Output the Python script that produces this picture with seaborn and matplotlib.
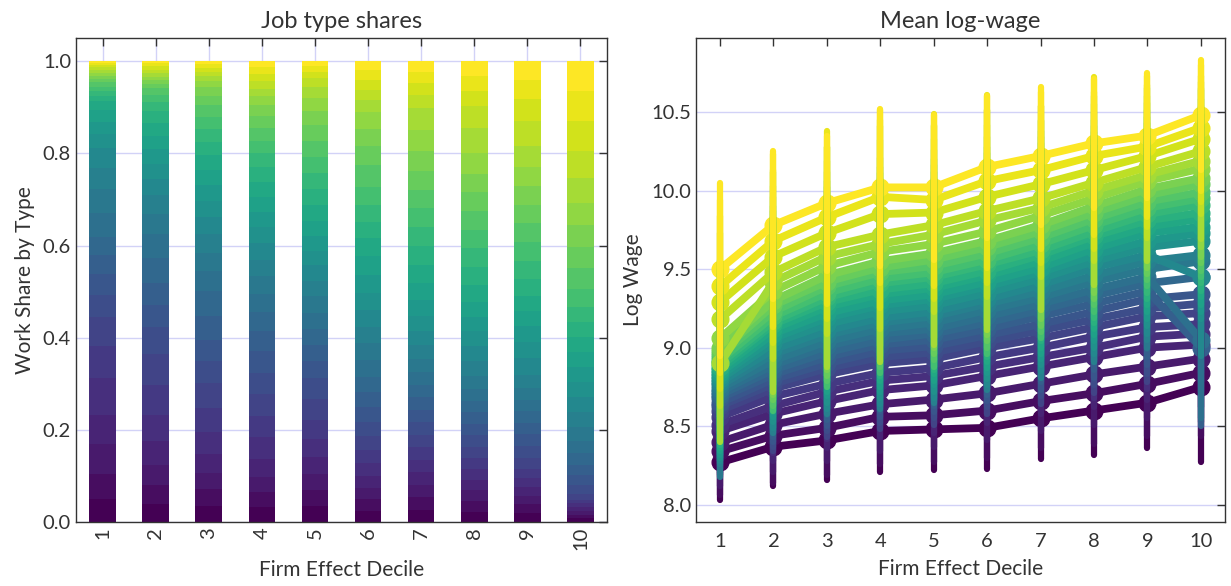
import numpy as np
import pandas as pd
import seaborn as sns
import matplotlib.pyplot as plt

# firm effect deciles (x axis of both panels)
deciles = [1, 2, 3, 4, 5, 6, 7, 8, 9, 10]
type_ids = list(range(31))

# relative weight of each job type (31 values, low -> high type) in each decile
type_weight_by_decile = [
    [1.6, 1.7, 2.0, 2.0, 2.5, 2.2, 2.0, 1.5, 1.4, 1.3, 1.25, 1.6, 1.65, 1.45, 1.4, 0.9,
     0.85, 0.8, 0.6, 0.35, 0.33, 0.33, 0.3, 0.2, 0.2, 0.2, 0.2, 0.2, 0.18, 0.15, 0.1],
    [1.2, 1.25, 1.3, 1.6, 1.7, 2.0, 2.0, 1.8, 1.45, 1.45, 1.65, 1.6, 1.3, 1.25, 1.05, 1.0,
     1.0, 0.85, 0.83, 0.8, 0.6, 0.45, 0.45, 0.3, 0.23, 0.23, 0.23, 0.23, 0.22, 0.2, 0.15],
    [1.1, 1.1, 1.1, 1.3, 1.45, 1.6, 1.67, 1.5, 1.43, 1.6, 1.67, 1.3, 1.25, 1.25, 1.15, 1.1,
     1.05, 1.0, 1.0, 0.9, 0.83, 0.83, 0.83, 0.6, 0.56, 0.45, 0.29, 0.29, 0.28, 0.25, 0.2],
    [1.0, 1.0, 1.0, 1.2, 1.43, 1.43, 1.43, 1.43, 1.43, 1.35, 1.25, 1.25, 1.15, 1.11, 1.11, 1.05,
     1.0, 1.0, 1.0, 1.0, 0.9, 0.83, 0.83, 0.83, 0.7, 0.6, 0.5, 0.5, 0.5, 0.45, 0.4],
    [1.1, 1.1, 1.1, 1.2, 1.25, 1.3, 1.43, 1.43, 1.2, 1.11, 1.11, 1.11, 1.11, 1.1, 1.05, 1.0,
     1.0, 1.05, 1.11, 1.11, 1.11, 1.11, 1.1, 1.05, 1.0, 0.9, 0.75, 0.6, 0.45, 0.38, 0.35],
    [0.75, 0.77, 0.77, 0.77, 0.85, 0.91, 0.91, 0.95, 1.0, 1.0, 1.0, 1.1, 1.11, 1.11, 1.11, 1.11,
     1.2, 1.25, 1.2, 1.11, 1.11, 1.2, 1.43, 1.3, 1.11, 1.11, 0.8, 0.67, 0.67, 0.67, 0.6],
    [0.83, 0.83, 0.83, 0.83, 0.83, 0.83, 0.83, 0.83, 0.83, 0.83, 0.83, 0.85, 0.9, 0.91, 0.91, 1.0,
     1.11, 1.11, 1.2, 1.25, 1.25, 1.25, 1.25, 1.25, 1.3, 1.43, 1.43, 0.9, 0.77, 0.77, 0.7],
    [0.71, 0.71, 0.71, 0.71, 0.71, 0.75, 0.77, 0.77, 0.77, 0.77, 0.77, 0.77, 0.9, 1.0, 1.0, 1.0,
     1.0, 1.0, 1.1, 1.25, 1.25, 1.25, 1.25, 1.25, 1.25, 1.4, 1.67, 1.5, 1.0, 1.0, 1.0],
    [0.59, 0.59, 0.59, 0.59, 0.59, 0.59, 0.77, 0.77, 0.77, 0.77, 0.77, 0.77, 0.77, 0.9, 1.11, 1.11,
     1.05, 1.0, 1.0, 1.1, 1.25, 1.25, 1.25, 1.25, 1.25, 1.25, 1.4, 1.67, 1.5, 1.25, 1.25],
    [0.25, 0.25, 0.25, 0.25, 0.25, 0.25, 0.4, 0.6, 0.625, 0.7, 0.8, 0.83, 0.9, 1.0, 1.0, 1.0,
     1.0, 1.0, 1.0, 1.0, 1.0, 1.2, 1.43, 1.43, 1.43, 1.5, 1.67, 1.8, 2.0, 2.0, 2.0],
]

# mean log wage of each type (rows) by decile (columns)
mean_log_wage = [
    [8.27, 8.37, 8.41, 8.47, 8.48, 8.49, 8.55, 8.60, 8.65, 8.75],
    [8.34, 8.44, 8.49, 8.56, 8.57, 8.60, 8.66, 8.71, 8.77, 8.84],
    [8.40, 8.51, 8.58, 8.64, 8.67, 8.71, 8.77, 8.83, 8.88, 8.93],
    [8.47, 8.58, 8.66, 8.73, 8.76, 8.82, 8.88, 8.94, 9.00, 9.02],
    [8.51, 8.63, 8.72, 8.79, 8.82, 8.88, 8.94, 9.00, 9.07, 9.09],
    [8.56, 8.69, 8.77, 8.84, 8.87, 8.94, 9.00, 9.07, 9.13, 9.15],
    [8.60, 8.74, 8.83, 8.90, 8.93, 9.00, 9.06, 9.13, 9.20, 9.22],
    [8.63, 8.77, 8.87, 8.94, 8.97, 9.04, 9.11, 9.18, 9.25, 9.28],
    [8.65, 8.80, 8.90, 8.98, 9.01, 9.08, 9.15, 9.23, 9.31, 9.34],
    [8.68, 8.83, 8.94, 9.02, 9.05, 9.12, 9.20, 9.28, 9.36, 9.00],
    [8.70, 8.86, 8.97, 9.05, 9.09, 9.16, 9.24, 9.33, 9.41, 9.45],
    [8.72, 8.89, 9.01, 9.09, 9.12, 9.20, 9.28, 9.37, 9.45, 9.05],
    [8.74, 8.92, 9.04, 9.12, 9.16, 9.24, 9.32, 9.42, 9.50, 9.55],
    [8.76, 8.96, 9.08, 9.16, 9.20, 9.28, 9.36, 9.46, 9.55, 9.59],
    [8.78, 8.99, 9.11, 9.19, 9.23, 9.31, 9.40, 9.51, 9.59, 9.45],
    [8.80, 9.03, 9.15, 9.23, 9.27, 9.35, 9.44, 9.55, 9.64, 9.68],
    [8.82, 9.06, 9.19, 9.27, 9.31, 9.39, 9.48, 9.59, 9.68, 9.73],
    [8.84, 9.09, 9.22, 9.30, 9.34, 9.42, 9.51, 9.63, 9.73, 9.77],
    [8.86, 9.12, 9.26, 9.34, 9.38, 9.46, 9.55, 9.67, 9.77, 9.82],
    [8.88, 9.15, 9.29, 9.37, 9.41, 9.49, 9.59, 9.71, 9.81, 9.86],
    [8.90, 9.17, 9.32, 9.41, 9.45, 9.53, 9.62, 9.74, 9.85, 9.91],
    [8.92, 9.20, 9.35, 9.44, 9.48, 9.56, 9.66, 9.78, 9.89, 9.95],
    [8.95, 9.23, 9.39, 9.48, 9.52, 9.60, 9.70, 9.82, 9.93, 9.99],
    [8.97, 9.27, 9.42, 9.51, 9.56, 9.64, 9.74, 9.86, 9.97, 10.04],
    [9.00, 9.30, 9.46, 9.55, 9.60, 9.68, 9.78, 9.90, 10.01, 10.08],
    [9.06, 9.36, 9.52, 9.61, 9.66, 9.74, 9.84, 9.95, 10.06, 10.14],
    [8.90, 9.42, 9.58, 9.66, 9.72, 9.81, 9.89, 10.00, 10.10, 10.19],
    [9.18, 9.48, 9.64, 9.72, 9.78, 9.87, 9.95, 10.05, 10.15, 10.25],
    [9.29, 9.58, 9.73, 9.85, 9.86, 9.96, 10.04, 10.13, 10.22, 10.33],
    [9.39, 9.68, 9.83, 9.96, 9.94, 10.06, 10.13, 10.22, 10.28, 10.40],
    [9.50, 9.78, 9.92, 10.02, 10.02, 10.15, 10.22, 10.30, 10.35, 10.48],
]

# standard deviation of log wage of each type by decile
sd_log_wage = [
    [0.24, 0.25, 0.25, 0.26, 0.26, 0.26, 0.26, 0.28, 0.29, 0.48],
    [0.28, 0.30, 0.30, 0.30, 0.30, 0.30, 0.30, 0.32, 0.33, 0.40],
    [0.28, 0.30, 0.30, 0.30, 0.30, 0.30, 0.30, 0.32, 0.33, 0.40],
    [0.28, 0.30, 0.30, 0.30, 0.30, 0.30, 0.30, 0.32, 0.33, 0.40],
    [0.28, 0.30, 0.30, 0.30, 0.30, 0.30, 0.30, 0.32, 0.33, 0.40],
    [0.28, 0.30, 0.30, 0.30, 0.30, 0.30, 0.30, 0.32, 0.33, 0.40],
    [0.40, 0.40, 0.40, 0.42, 0.42, 0.42, 0.42, 0.42, 0.42, 0.50],
    [0.40, 0.40, 0.40, 0.42, 0.42, 0.42, 0.42, 0.42, 0.42, 0.50],
    [0.40, 0.40, 0.40, 0.42, 0.42, 0.42, 0.42, 0.42, 0.42, 0.50],
    [0.40, 0.40, 0.40, 0.42, 0.42, 0.42, 0.42, 0.42, 0.42, 0.50],
    [0.40, 0.40, 0.40, 0.42, 0.42, 0.42, 0.42, 0.42, 0.42, 0.50],
    [0.40, 0.40, 0.40, 0.42, 0.42, 0.42, 0.42, 0.42, 0.42, 0.50],
    [0.56, 0.45, 0.45, 0.50, 0.50, 0.50, 0.50, 0.50, 0.50, 0.55],
    [0.50, 0.50, 0.50, 0.55, 0.55, 0.55, 0.55, 0.55, 0.50, 0.50],
    [0.50, 0.50, 0.50, 0.55, 0.55, 0.55, 0.55, 0.55, 0.50, 0.50],
    [0.50, 0.50, 0.50, 0.55, 0.55, 0.55, 0.55, 0.55, 0.50, 0.50],
    [0.50, 0.50, 0.50, 0.55, 0.55, 0.55, 0.55, 0.55, 0.50, 0.50],
    [0.50, 0.50, 0.50, 0.55, 0.55, 0.55, 0.55, 0.55, 0.50, 0.50],
    [0.50, 0.50, 0.50, 0.55, 0.55, 0.55, 0.55, 0.55, 0.50, 0.50],
    [0.50, 0.50, 0.50, 0.55, 0.55, 0.55, 0.55, 0.55, 0.50, 0.50],
    [0.50, 0.50, 0.50, 0.55, 0.55, 0.55, 0.55, 0.55, 0.50, 0.50],
    [0.50, 0.60, 0.60, 0.60, 0.60, 0.60, 0.60, 0.55, 0.50, 0.50],
    [0.50, 0.60, 0.60, 0.60, 0.60, 0.60, 0.60, 0.55, 0.50, 0.50],
    [0.50, 0.60, 0.60, 0.60, 0.60, 0.60, 0.60, 0.55, 0.50, 0.50],
    [0.50, 0.60, 0.60, 0.60, 0.60, 0.60, 0.60, 0.55, 0.50, 0.50],
    [0.50, 0.60, 0.60, 0.60, 0.60, 0.60, 0.60, 0.55, 0.50, 0.50],
    [0.50, 0.70, 0.70, 0.75, 0.70, 0.70, 0.65, 0.60, 0.55, 0.50],
    [0.55, 0.55, 0.55, 0.60, 0.55, 0.55, 0.50, 0.50, 0.45, 0.40],
    [0.55, 0.55, 0.55, 0.60, 0.55, 0.55, 0.50, 0.50, 0.45, 0.40],
    [0.55, 0.55, 0.55, 0.55, 0.55, 0.55, 0.50, 0.50, 0.45, 0.40],
    [0.55, 0.47, 0.43, 0.50, 0.46, 0.45, 0.44, 0.41, 0.40, 0.35],
]

sns.set_theme(style="white")
GRID = "#d2d2f7"
INK = "#333333"
plt.rcParams.update({
    "font.family": ["Lato", "DejaVu Sans"],
    "text.color": INK,
    "axes.labelcolor": INK,
    "axes.edgecolor": INK,
    "axes.linewidth": 1.0,
    "xtick.color": INK,
    "ytick.color": INK,
    "xtick.direction": "in",
    "ytick.direction": "in",
    "xtick.top": True,
    "ytick.right": True,
    "xtick.major.size": 6,
    "ytick.major.size": 6,
    "xtick.major.width": 1.0,
    "ytick.major.width": 1.0,
    "xtick.labelsize": 14.5,
    "ytick.labelsize": 14.5,
    "axes.labelsize": 15,
    "axes.titlesize": 17,
})

labels = [f"T{k:02d}" for k in type_ids]
colors = plt.cm.viridis(np.linspace(0, 1, len(type_ids)))

# long table of shares per decile (weights normalised to sum to one)
rows = []
for d, w in zip(deciles, type_weight_by_decile):
    w = np.array(w)
    for k, s in zip(type_ids, w / w.sum()):
        rows.append({"decile": d, "type": labels[k], "share": s})
share_df = pd.DataFrame(rows)

fig = plt.figure(figsize=(12.31, 5.86), dpi=100)
ax1 = fig.add_axes([0.0617, 0.109, 0.4314, 0.826])
ax2 = fig.add_axes([0.5654, 0.109, 0.4297, 0.826])

# --- job type shares: stacked bars ---
ax1.grid(True, color=GRID, lw=1.0)
ax1.set_axisbelow(True)
sns.histplot(data=share_df, x="decile", weights="share", hue="type",
             hue_order=labels[::-1], palette=dict(zip(labels, colors)),
             multiple="stack", discrete=True, shrink=0.5, alpha=1,
             linewidth=0, antialiased=False, legend=False, ax=ax1)
ax1.set_xlim(0.5, 10.5)
ax1.set_ylim(0, 1.05)
ax1.set_xticks(deciles)
ax1.set_xticklabels([str(d) for d in deciles], rotation=90)
ax1.set_yticks([0.0, 0.2, 0.4, 0.6, 0.8, 1.0])
ax1.set_yticklabels(["0.0", "0.2", "0.4", "0.6", "0.8", "1.0"])
ax1.set_xlabel("Firm Effect Decile", labelpad=7)
ax1.set_ylabel("Work Share by Type", labelpad=6)
ax1.set_title("Job type shares", pad=7)

# --- mean log wage by type ---
ax2.grid(True, axis="y", color=GRID, lw=1.0)
ax2.set_axisbelow(True)
for k in type_ids:
    eb = ax2.errorbar(deciles, mean_log_wage[k], yerr=sd_log_wage[k],
                      color=colors[k], lw=5.6, marker="o", ms=12,
                      elinewidth=4.5, capsize=0, zorder=2,
                      solid_capstyle="round", solid_joinstyle="round")
    # vertical bars sit above every line, like in the original
    for col in eb[2]:
        col.set_capstyle("round")
        col.set_zorder(3)
ax2.set_xticks(deciles)
ax2.set_yticks([8.0, 8.5, 9.0, 9.5, 10.0, 10.5])
ax2.set_yticklabels(["8.0", "8.5", "9.0", "9.5", "10.0", "10.5"])
ax2.tick_params(axis="x", pad=8)
ax2.set_xlabel("Firm Effect Decile", labelpad=6)
ax2.set_ylabel("Log Wage", labelpad=6)
ax2.set_title("Mean log-wage", pad=7)

for ax in (ax1, ax2):
    for sp in ax.spines.values():
        sp.set_visible(True)
        sp.set_color(INK)

fig.savefig("out.png", dpi=100)
